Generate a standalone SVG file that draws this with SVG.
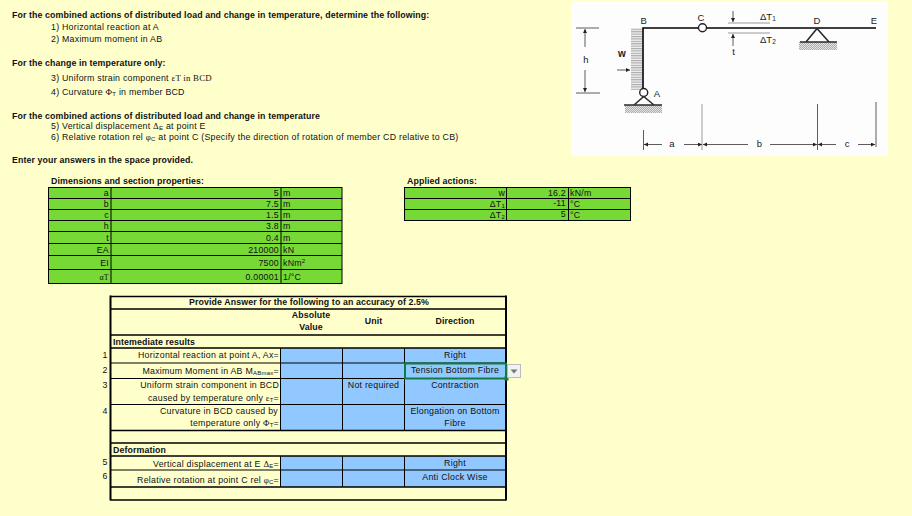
<svg xmlns="http://www.w3.org/2000/svg" width="912" height="516" viewBox="0 0 912 516">
<defs>
<style>
text{font-family:"Liberation Sans",Arial,sans-serif;font-size:8.8px;letter-spacing:.25px;fill:#111}
.b{font-weight:700;letter-spacing:.1px}
.r{text-anchor:end}.m{text-anchor:middle}
.s{font-family:"Liberation Serif","DejaVu Serif",serif}
.d{font-family:"Liberation Sans",Arial,sans-serif;font-size:9.5px;letter-spacing:0;fill:#222}
.g{fill:#77d936;stroke:#000;stroke-width:1}
.l{stroke:#000;stroke-width:1;fill:none}
.t{stroke:#000;stroke-width:1.6;fill:none}
.sk{stroke:#2a2a2a;stroke-width:1.6;fill:none}
.th{stroke:#333;stroke-width:.8;fill:none}
.gr{stroke:#999;stroke-width:1;fill:none}
</style>
<marker id="a" markerWidth="6" markerHeight="6" refX="5" refY="2.5" orient="auto"><path d="M0 0L5 2.5L0 5z" fill="#222"/></marker>
<pattern id="hatch" width="2" height="2" patternUnits="userSpaceOnUse"><rect width="2" height="2" fill="#e4e4e4"/><path d="M0 2L2 0" stroke="#888" stroke-width=".6"/></pattern>
<pattern id="load" width="3" height="2.4" patternUnits="userSpaceOnUse"><rect width="3" height="2.4" fill="#f0f0f0"/><rect width="3" height="1.1" fill="#aaa"/></pattern>
</defs>
<rect width="912" height="516" fill="#ffffcc"/>

<g id="instructions">
<text class="b" x="12" y="18">For the combined actions of distributed load and change in temperature, determine the following:</text>
<text x="51" y="30">1) Horizontal reaction at A</text>
<text x="51" y="42">2) Maximum moment in AB</text>
<text class="b" x="12" y="66">For the change in temperature only:</text>
<text x="51" y="81">3) Uniform strain component <tspan class="s">εT in BCD</tspan></text>
<text x="51" y="95">4) Curvature <tspan class="s">Φ</tspan><tspan font-size="6" dy="1">T</tspan><tspan dy="-1"> in member BCD</tspan></text>
<text class="b" x="12" y="119">For the combined actions of distributed load and change in temperature</text>
<text x="51" y="129">5) Vertical displacement <tspan class="s">Δ</tspan><tspan font-size="6" dy="1">E</tspan><tspan dy="-1"> at point E</tspan></text>
<text x="51" y="140">6) Relative rotation rel <tspan class="s">φ</tspan><tspan font-size="6" dy="1">C</tspan><tspan dy="-1"> at point C (Specify the direction of rotation of member CD relative to CB)</tspan></text>
<text class="b" x="12" y="163">Enter your answers in the space provided.</text>
</g>

<g id="structure-figure">
<rect x="571" y="1" width="317" height="155" fill="#fdfdfd"/>
<rect x="631" y="28" width="11" height="62" fill="url(#load)"/>
<path class="t" d="M643 91V28H876"/>
<circle cx="702.5" cy="27.7" r="4" fill="#fff" stroke="#222" stroke-width="1.4"/>
<circle cx="643.7" cy="92.5" r="4" fill="#fff" stroke="#222" stroke-width="1.4"/>
<path class="sk" d="M643.7 96.5L634 105M643.7 96.5L654 105M817 28.5L806 42M817 28.5L829 42"/>
<rect x="625" y="105" width="37" height="8" fill="url(#hatch)"/>
<rect x="799" y="42" width="38" height="8" fill="url(#hatch)"/>
<path class="sk" d="M624 105H662M800 42H837"/>
<path class="gr" d="M728 23H770M728 33H770"/>
<path class="th" d="M576 28H599M576 93H600"/>
<path class="th" marker-end="url(#a)" d="M585 47V29"/>
<path class="th" marker-end="url(#a)" d="M585 70V92"/>
<path class="th" marker-end="url(#a)" d="M617 70H630"/>
<path class="th" marker-end="url(#a)" d="M733 11V22"/>
<path class="th" marker-end="url(#a)" d="M733 46V34"/>
<path class="th" d="M643.5 130V150M817.5 104V150M876 102V147"/>
<path class="gr" d="M702 104V150"/>
<path class="th" marker-end="url(#a)" d="M662 144.5H644"/>
<path class="th" marker-end="url(#a)" d="M684 144.5H702"/>
<path class="th" marker-end="url(#a)" d="M748 144.5H703"/>
<path class="th" marker-end="url(#a)" d="M770 144.5H817"/>
<path class="th" marker-end="url(#a)" d="M836 144.5H818"/>
<path class="th" marker-end="url(#a)" d="M858 144.5H875"/>
<text class="d m" x="643.7" y="24">B</text>
<text class="d m" x="701" y="21">C</text>
<text class="d m" x="817" y="24">D</text>
<text class="d m" x="874" y="24">E</text>
<text class="d m" x="657" y="97">A</text>
<text class="d m" x="622" y="57" font-weight="700" style="font-size:10px">w</text>
<text class="d m" x="586" y="63">h</text>
<text class="d m" x="733.5" y="55">t</text>
<text class="d m" x="672" y="147">a</text>
<text class="d m" x="759.5" y="147">b</text>
<text class="d m" x="847" y="147">c</text>
<text class="d" x="760" y="20">ΔT<tspan font-size="6.5" dy="1">1</tspan></text>
<text class="d" x="760" y="43">ΔT<tspan font-size="6.5" dy="1">2</tspan></text>
</g>

<g id="dimensions-table">
<text class="b" x="51" y="184">Dimensions  and section properties:</text>
<rect class="g" x="48.5" y="187.5" width="293.5" height="96"/>
<path class="l" d="M111 187.5V283.5M281 187.5V283.5M48.5 198.5H342M48.5 209.5H342M48.5 220.5H342M48.5 231.5H342M48.5 243.5H342M48.5 255.5H342M48.5 269.5H342"/>
<text class="r" x="109" y="196">a</text><text class="r" x="279" y="196">5</text><text x="283" y="196">m</text>
<text class="r" x="109" y="207">b</text><text class="r" x="279" y="207">7.5</text><text x="283" y="207">m</text>
<text class="r" x="109" y="218">c</text><text class="r" x="279" y="218">1.5</text><text x="283" y="218">m</text>
<text class="r" x="109" y="229">h</text><text class="r" x="279" y="229">3.8</text><text x="283" y="229">m</text>
<text class="r" x="109" y="241">t</text><text class="r" x="279" y="241">0.4</text><text x="283" y="241">m</text>
<text class="r" x="109" y="253">EA</text><text class="r" x="279" y="253">210000</text><text x="283" y="253">kN</text>
<text class="r" x="109" y="266">EI</text><text class="r" x="279" y="266">7500</text><text x="283" y="266">kNm<tspan font-size="6" dy="-3">2</tspan></text>
<text class="r s" x="109" y="280" style="font-size:8px">αT</text><text class="r" x="279" y="280">0.00001</text><text x="283" y="280">1/°C</text>
</g>

<g id="actions-table">
<text class="b" x="407" y="184">Applied actions:</text>
<rect class="g" x="404.5" y="187.5" width="226" height="33"/>
<path class="l" d="M506.5 187.5V220.5M568.5 187.5V220.5M404.5 198.5H630.5M404.5 209.5H630.5"/>
<text class="r" x="505" y="196">w</text><text class="r" x="566" y="196">16.2</text><text x="570" y="196">kN/m</text>
<text class="r" x="505" y="207">ΔT<tspan font-size="6" dy="1">1</tspan></text><text class="r" x="566" y="206">-11</text><text x="570" y="207">°C</text>
<text class="r" x="505" y="218">ΔT<tspan font-size="6" dy="1">2</tspan></text><text class="r" x="566" y="217">5</text><text x="570" y="218">°C</text>
</g>

<g id="answers-table">
<rect x="280.5" y="348" width="225.5" height="82.5" fill="#91c8ff"/>
<rect x="280.5" y="456" width="225.5" height="31" fill="#91c8ff"/>
<path class="t" d="M110.5 296.5H506M110.5 309H506M110.5 335H506M110.5 348H506M110.5 430.5H506M110.5 443H506M110.5 456H506M110.5 487H506M110.5 500H506"/>
<path class="t" style="stroke-width:2" d="M110.5 295.5V500.5M506 295.5V500.5"/>
<path class="l" d="M280.5 348V430.5M342.5 348V430.5M404.5 348V430.5M280.5 456V487M342.5 456V487M404.5 456V487M110.5 363H506M110.5 378.5H506M110.5 404.5H506M110.5 470H506"/>
<text class="b m" x="309" y="305">Provide Answer for the following to an accuracy of 2.5%</text>
<text class="b m" x="311" y="318">Absolute</text><text class="b m" x="311" y="330">Value</text>
<text class="b m" x="373.5" y="324">Unit</text><text class="b m" x="455" y="324">Direction</text>
<text class="b" x="113" y="345">Intemediate results</text>
<text class="b" x="113" y="453">Deformation</text>
<text class="m" x="105" y="358">1</text><text class="m" x="105" y="373">2</text><text class="m" x="105" y="388">3</text><text class="m" x="105" y="414">4</text><text class="m" x="105" y="465">5</text><text class="m" x="105" y="479">6</text>
<text class="r" x="279" y="358">Horizontal reaction at point A, Ax=</text>
<text class="r" x="279" y="374">Maximum Moment in AB M<tspan font-size="6" dy="1">ABmax</tspan><tspan dy="-1">=</tspan></text>
<text class="r" x="279" y="388">Uniform strain component in BCD</text>
<text class="r" x="279" y="401">caused by temperature only <tspan class="s">ε</tspan><tspan font-size="6" dy="1">T</tspan><tspan dy="-1">=</tspan></text>
<text class="r" x="278" y="414">Curvature in BCD caused by</text>
<text class="r" x="279" y="426">temperature only <tspan class="s">Φ</tspan><tspan font-size="6" dy="1">T</tspan><tspan dy="-1">=</tspan></text>
<text class="r" x="279" y="467">Vertical displacement at E <tspan class="s">Δ</tspan><tspan font-size="6" dy="1">E</tspan><tspan dy="-1">=</tspan></text>
<text class="r" x="279" y="483">Relative rotation at point C rel <tspan class="s">φ</tspan><tspan font-size="6" dy="1">C</tspan><tspan dy="-1">=</tspan></text>
<text class="m" x="373.5" y="388">Not required</text>
<text class="m" x="455" y="358">Right</text>
<text class="m" x="455" y="388">Contraction</text>
<text class="m" x="455" y="414">Elongation on Bottom</text>
<text class="m" x="455" y="426">Fibre</text>
<text class="m" x="455" y="466">Right</text>
<text class="m" x="455" y="480">Anti Clock Wise</text>
</g>

<g id="selected-cell">
<rect x="405" y="363.5" width="101" height="15" fill="#91c8ff" stroke="#107c41" stroke-width="2"/>
<rect x="504.5" y="376.5" width="4" height="4" fill="#107c41"/>
<text class="m" x="455" y="373">Tension Bottom Fibre</text>
<rect x="507.5" y="364.5" width="13" height="13" fill="#f2f2f2" stroke="#bbb"/>
<path d="M510.5 369.5H517.5L514 373.5z" fill="#777"/>
</g>
</svg>
